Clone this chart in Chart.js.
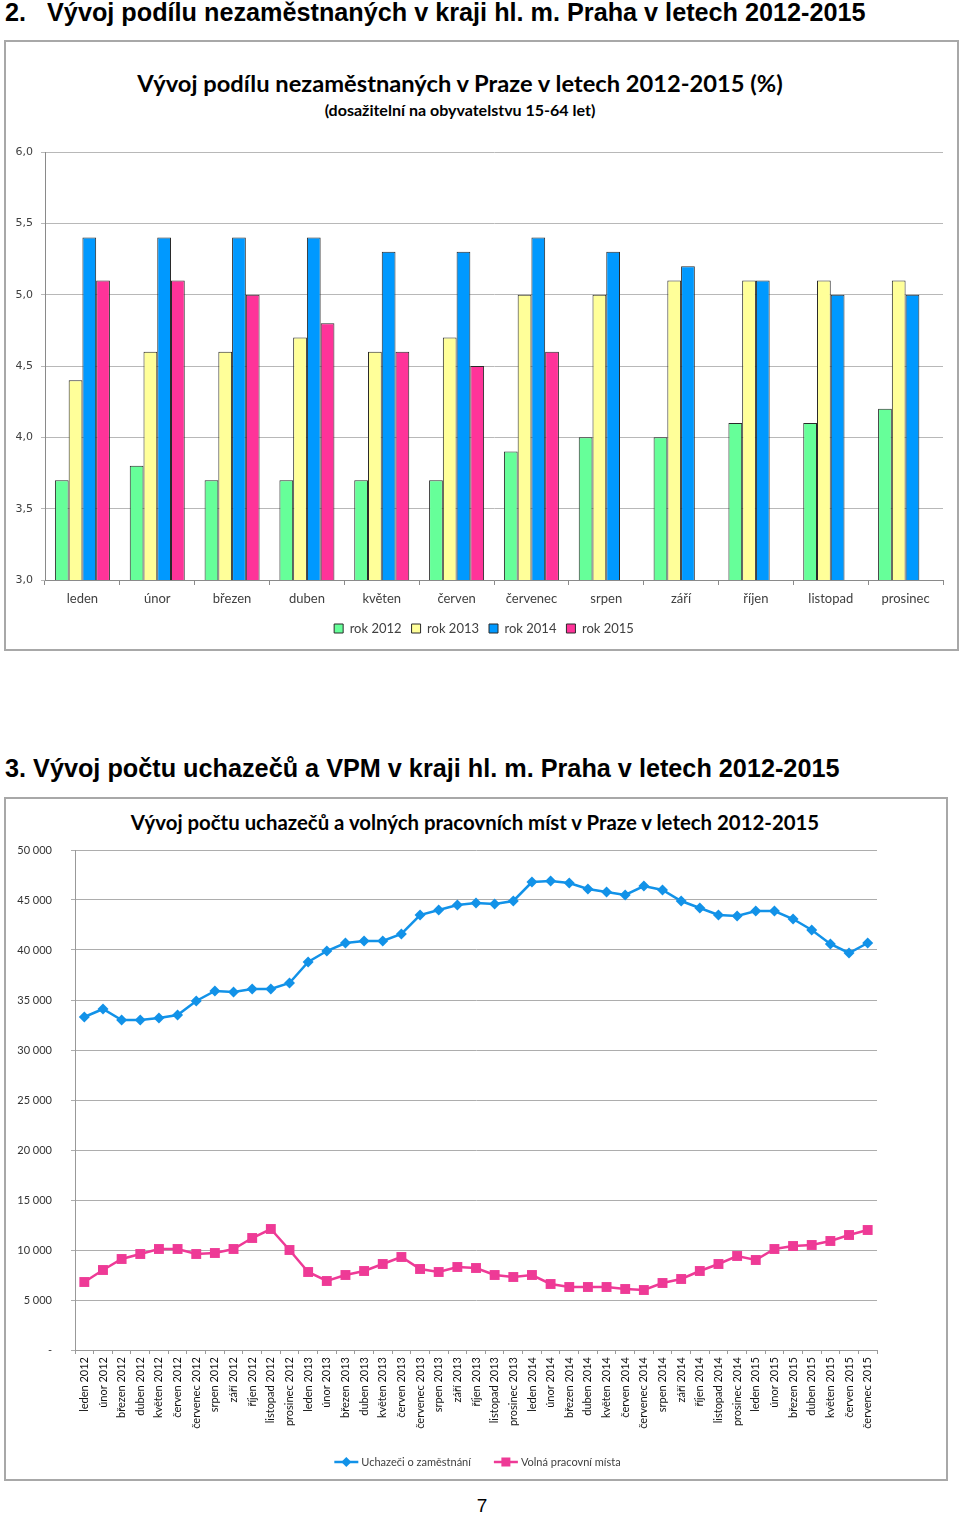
<!DOCTYPE html>
<html><head><meta charset="utf-8">
<script src="https://cdn.jsdelivr.net/npm/chart.js@4.4.0/dist/chart.umd.min.js"></script>
<style>
body{margin:0;width:960px;height:1515px;background:#fff;position:relative;overflow:hidden;font-family:'Liberation Sans',Arial,sans-serif;}
.h{position:absolute;left:5px;font-weight:bold;white-space:nowrap;color:#000;line-height:1;transform:translateY(-50%);}
.box{position:absolute;border:2px solid #a8a8a8;box-sizing:border-box;}
.t{position:absolute;font-family:Lato,sans-serif;font-weight:bold;white-space:nowrap;color:#000;line-height:1;transform:translate(-50%,-50%);}
canvas{position:absolute;}
</style></head>
<body>
<div class="h fit" data-w="861" style="top:13px;font-size:22px">2.&nbsp;&nbsp; Vývoj podílu nezaměstnaných v kraji hl. m. Praha v letech 2012-2015</div>
<div class="box" style="left:4px;top:40px;width:955px;height:611px"></div>
<div class="t fit" data-w="646" style="left:460px;top:84px;font-size:21px">Vývoj podílu nezaměstnaných v Praze v letech 2012-2015 (%)</div>
<div class="t fit" data-w="271" style="left:460px;top:110px;font-size:14px">(dosažitelní na obyvatelstvu 15-64 let)</div>
<canvas id="c1" width="950" height="515" style="left:5px;top:130px;width:950px;height:515px"></canvas>

<div class="h fit" data-w="835" style="top:769px;font-size:22px">3. Vývoj počtu uchazečů a VPM v kraji hl. m. Praha v letech 2012-2015</div>
<div class="box" style="left:4px;top:797px;width:944px;height:684px"></div>
<div class="t fit" data-w="689" style="left:475px;top:822px;font-size:20px">Vývoj počtu uchazečů a volných pracovních míst v Praze v letech 2012-2015</div>
<canvas id="c2" width="940" height="643" style="left:5px;top:835px;width:940px;height:643px"></canvas>

<div style="position:absolute;left:482px;top:1505px;transform:translate(-50%,-50%);font-size:19px;line-height:1;">7</div>

<script>
// ---------- DATA: chart 1 ----------
const months = ['leden','únor','březen','duben','květen','červen','červenec','srpen','září','říjen','listopad','prosinec'];
const seriesNames1 = ['rok 2012','rok 2013','rok 2014','rok 2015'];
const rate2012 = [3.7, 3.8, 3.7, 3.7, 3.7, 3.7, 3.9, 4.0, 4.0, 4.1, 4.1, 4.2];
const rate2013 = [4.4, 4.6, 4.6, 4.7, 4.6, 4.7, 5.0, 5.0, 5.1, 5.1, 5.1, 5.1];
const rate2014 = [5.4, 5.4, 5.4, 5.4, 5.3, 5.3, 5.4, 5.3, 5.2, 5.1, 5.0, 5.0];
const rate2015 = [5.1, 5.1, 5.0, 4.8, 4.6, 4.5, 4.6, null, null, null, null, null];
const yTicks1 = {min: 3, max: 6, step: 0.5};

// ---------- DATA: chart 2 ----------
const periods = [
 'leden 2012','únor 2012','březen 2012','duben 2012','květen 2012','červen 2012','červenec 2012','srpen 2012','září 2012','říjen 2012','listopad 2012','prosinec 2012',
 'leden 2013','únor 2013','březen 2013','duben 2013','květen 2013','červen 2013','červenec 2013','srpen 2013','září 2013','říjen 2013','listopad 2013','prosinec 2013',
 'leden 2014','únor 2014','březen 2014','duben 2014','květen 2014','červen 2014','červenec 2014','srpen 2014','září 2014','říjen 2014','listopad 2014','prosinec 2014',
 'leden 2015','únor 2015','březen 2015','duben 2015','květen 2015','červen 2015','červenec 2015'];
const seriesNames2 = ['Uchazeči o zaměstnání','Volná pracovní místa'];
const applicants = [33300, 34100, 33000, 33000, 33200, 33500, 34900, 35900, 35800, 36100, 36100, 36700,
 38800, 39900, 40700, 40900, 40900, 41600, 43500, 44000, 44500, 44700, 44600, 44900,
 46800, 46900, 46700, 46100, 45800, 45500, 46400, 46000, 44900, 44200, 43500, 43400,
 43900, 43900, 43100, 42000, 40600, 39700, 40700];
const vacancies = [6800, 8000, 9100, 9600, 10100, 10100, 9600, 9700, 10100, 11200, 12100, 10000,
 7800, 6900, 7500, 7900, 8600, 9300, 8100, 7800, 8300, 8200, 7500, 7300,
 7500, 6600, 6300, 6300, 6300, 6100, 6000, 6700, 7100, 7900, 8600, 9400,
 9000, 10100, 10400, 10500, 10900, 11500, 12000];
const yTicks2 = {min: 0, max: 50000, step: 5000};

// ---------- fit text widths ----------
document.querySelectorAll('.fit').forEach(el => {
  const target = +el.dataset.w;
  const fs = parseFloat(el.style.fontSize);
  const w = el.getBoundingClientRect().width;
  if (w > 0) el.style.fontSize = (fs * target / w) + 'px';
});

// ---------- chart 1 ----------
const barColors = ['#66FF99', '#FFFF99', '#0099FF', '#FF3399'];
const rates = [rate2012, rate2013, rate2014, rate2015];
const shiftLegend = {
  id: 'shiftLegend',
  afterLayout(chart) { const l = chart.legend; if (l) { l.left += 10; l.right += 10; } }
};
new Chart(document.getElementById('c1'), {
  type: 'bar',
  data: {
    labels: months,
    datasets: seriesNames1.map((n, i) => ({
      label: n, data: rates[i], backgroundColor: barColors[i],
      borderColor: '#2a2a2a', borderWidth: 1
    }))
  },
  options: {
    animation: false, responsive: false,
    layout: {padding: {left: 0, right: 12, top: 22, bottom: 0}},
    datasets: {bar: {barPercentage: 1, categoryPercentage: 0.735}},
    scales: {
      x: {
        offset: true,
        grid: {display: true, drawOnChartArea: false, drawTicks: true, tickLength: 5, color: '#8a8a8a', offset: true},
        border: {color: '#8a8a8a'},
        ticks: {font: {family: 'Lato', size: 13}, color: '#404040', padding: 6, maxRotation: 0, autoSkip: false},
        afterFit: s => { s.height = 32; }
      },
      y: {
        min: yTicks1.min, max: yTicks1.max,
        ticks: {stepSize: yTicks1.step, callback: v => v.toFixed(1).replace('.', ','), font: {family: 'DejaVu Sans', size: 11}, color: '#404040', padding: 8},
        grid: {color: '#b8b8b8', tickLength: 4},
        border: {color: '#8a8a8a'},
        afterFit: s => { s.width = 40; }
      }
    },
    plugins: {
      legend: {position: 'bottom', labels: {boxWidth: 9, boxHeight: 9, font: {family: 'Lato', size: 13}, color: '#404040', padding: 10}},
      tooltip: {enabled: false}
    }
  },
  plugins: [shiftLegend]
});

// ---------- chart 2 ----------
const lineColors = ['#1292E8', '#EE3A96'];
const lineStyles = [{style: 'rectRot', r: 5.5}, {style: 'rect', r: 7}];
const lineData = [applicants, vacancies];

const lineLegend = {
  id: 'lineLegend',
  afterDraw(chart) {
    const c = chart.ctx;
    const y = 627;
    c.save();
    c.font = '11px Lato';
    c.textBaseline = 'middle';
    c.textAlign = 'left';
    const items = chart.data.datasets.map((d, i) => ({d, i, w: 24 + 4 + c.measureText(d.label).width}));
    const gap = 22;
    const total = items.reduce((a, b) => a + b.w, 0) + gap * (items.length - 1);
    let x = 473 - total / 2;
    items.forEach(it => {
      const col = it.d.borderColor;
      c.strokeStyle = col; c.lineWidth = 2.5;
      c.beginPath(); c.moveTo(x, y); c.lineTo(x + 24, y); c.stroke();
      c.fillStyle = col;
      const cx = x + 12;
      if (it.d.pointStyle === 'rectRot') {
        const r = 5;
        c.beginPath(); c.moveTo(cx, y - r); c.lineTo(cx + r, y); c.lineTo(cx, y + r); c.lineTo(cx - r, y); c.closePath(); c.fill();
      } else {
        c.fillRect(cx - 4.5, y - 4.5, 9, 9);
      }
      c.fillStyle = '#404040';
      c.fillText(it.d.label, x + 27, y + 0.5);
      x += it.w + gap;
    });
    c.restore();
  }
};

new Chart(document.getElementById('c2'), {
  type: 'line',
  data: {
    labels: periods,
    datasets: seriesNames2.map((n, i) => ({
      label: n, data: lineData[i],
      borderColor: lineColors[i], backgroundColor: lineColors[i],
      borderWidth: 2.5, pointStyle: lineStyles[i].style, pointRadius: lineStyles[i].r,
      pointBorderWidth: 0, pointBackgroundColor: lineColors[i], tension: 0, fill: false
    }))
  },
  options: {
    animation: false, responsive: false,
    layout: {padding: {left: 0, right: 68, top: 15, bottom: 48}},
    scales: {
      x: {
        offset: true,
        grid: {display: true, drawOnChartArea: false, drawTicks: true, tickLength: 4, color: '#999', offset: true},
        border: {color: '#999'},
        ticks: {font: {family: 'Lato', size: 11}, color: '#111', minRotation: 90, maxRotation: 90, autoSkip: false, padding: 3},
        afterFit: s => { s.height = 80; }
      },
      y: {
        min: yTicks2.min, max: yTicks2.max,
        ticks: {stepSize: yTicks2.step, callback: v => v === 0 ? '-' : String(v).replace(/\B(?=(\d{3})+(?!\d))/g, ' '), font: {family: 'Lato', size: 11}, color: '#333', padding: 19},
        grid: {color: '#adadad', tickLength: 4},
        border: {color: '#999'},
        afterFit: s => { s.width = 70; s.paddingTop = 0; s.paddingBottom = 0; }
      }
    },
    plugins: {legend: {display: false}, tooltip: {enabled: false}}
  },
  plugins: [lineLegend]
});
</script>
</body></html>
